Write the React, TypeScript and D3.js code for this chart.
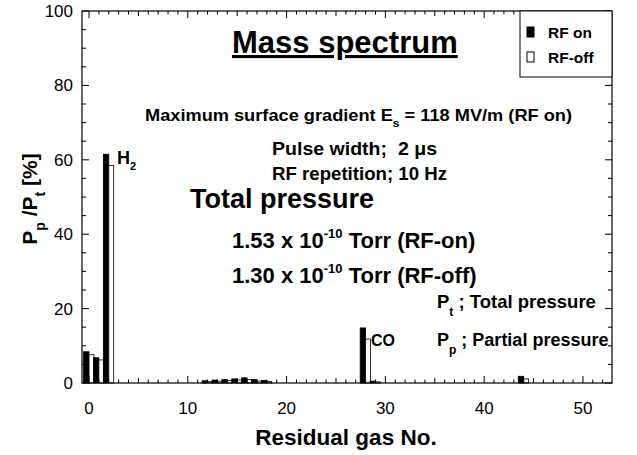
import React from "react";
import * as d3 from "d3";

// residual gas number (mass), RF on / RF off partial pressure ratio [%]
const gasNo = [0, 1, 2, 12, 13, 14, 15, 16, 17, 18, 28, 29, 44];
const rfOn = [8.4, 6.8, 61.5, 0.6, 0.8, 0.9, 1.1, 1.4, 0.9, 0.7, 14.8, 0.5, 1.8];
const rfOff = [7.6, 6.2, 58.5, 0.4, 0.5, 0.7, 0.8, 0.9, 0.5, 0.4, 11.8, 0.3, 1.1];

const xTicks = [0, 10, 20, 30, 40, 50];
const yTicks = [0, 20, 40, 60, 80, 100];

const W = 637, H = 455;
const left = 82, right = 612, top = 11, bottom = 383;
const font = "'Liberation Sans', Arial, Helvetica, sans-serif";

export default function App() {
  const x = d3.scaleLinear().domain([-0.71, 52.94]).range([left, right]);
  const y = d3.scaleLinear().domain([0, 100]).range([bottom, top]);

  const xMinor = d3.range(0, 53, 1);
  const yMinor = d3.range(0, 101, 5);

  return (
    <svg width={W} height={H} style={{ position: "absolute", left: 0, top: 0, background: "#fff" }}
      fontFamily={font}>
      {/* bars */}
      {gasNo.map((g, i) => (
        <g key={g}>
          <rect x={x(g - 0.55)} y={y(rfOn[i])} width={x(g) - x(g - 0.55)} height={y(0) - y(rfOn[i])}
            fill="#000" stroke="#000" strokeWidth={0.8} />
          <rect x={x(g)} y={y(rfOff[i])} width={x(g + 0.5) - x(g)} height={y(0) - y(rfOff[i])}
            fill="#fff" stroke="#000" strokeWidth={0.8} />
        </g>
      ))}

      {/* frame */}
      <rect x={left} y={top} width={right - left} height={bottom - top} fill="none" stroke="#000" strokeWidth={1.2} />

      {/* x ticks, inward, bottom and top */}
      {xMinor.map(v => {
        const len = v % 10 === 0 ? 7 : v % 5 === 0 ? 5 : 3.5;
        return (
          <g key={"x" + v} stroke="#000" strokeWidth={1}>
            <line x1={x(v)} x2={x(v)} y1={bottom} y2={bottom - len} />
            <line x1={x(v)} x2={x(v)} y1={top} y2={top + len} />
          </g>
        );
      })}
      {/* y ticks, inward, left and right */}
      {yMinor.map(v => {
        const len = v % 20 === 0 ? 7 : 4;
        return (
          <g key={"y" + v} stroke="#000" strokeWidth={1}>
            <line x1={left} x2={left + len} y1={y(v)} y2={y(v)} />
            <line x1={right} x2={right - len} y1={y(v)} y2={y(v)} />
          </g>
        );
      })}

      {/* tick labels */}
      {xTicks.map(v => (
        <text key={"xl" + v} x={x(v)} y={414} textAnchor="middle" fontSize={17}>{v}</text>
      ))}
      {yTicks.map(v => (
        <text key={"yl" + v} x={73} y={y(v) + 6} textAnchor="end" fontSize={17}>{v}</text>
      ))}

      {/* axis titles */}
      <text x={346} y={445} textAnchor="middle" fontSize={22.5} fontWeight="bold">Residual gas No.</text>
      <text transform="translate(37,199) rotate(-90)" textAnchor="middle" fontSize={21} fontWeight="bold">
        P<tspan dy={8} fontSize={14}>p</tspan><tspan dy={-8}> /P</tspan><tspan dy={8} fontSize={14}>t</tspan><tspan dy={-8}> [%]</tspan>
      </text>

      {/* legend */}
      <rect x={520} y={top} width={right - 520} height={66} fill="#fff" stroke="#000" strokeWidth={1} />
      <rect x={527} y={27} width={7} height={10} fill="#000" stroke="#000" />
      <text x={548} y={38} fontSize={15.5} fontWeight="bold">RF on</text>
      <rect x={527} y={52} width={7} height={10} fill="#fff" stroke="#000" />
      <text x={548} y={63} fontSize={15.5} fontWeight="bold">RF-off</text>

      {/* annotations */}
      <text x={232} y={53} fontSize={31} fontWeight="bold" textDecoration="underline">Mass spectrum</text>
      <text x={145} y={121} fontSize={16.5} fontWeight="bold" textLength={427} lengthAdjust="spacingAndGlyphs">
        Maximum surface gradient E<tspan dy={6} fontSize={11}>s</tspan><tspan dy={-6}> = 118 MV/m (RF on)</tspan>
      </text>
      <text x={272} y={155} fontSize={18} fontWeight="bold" xmlSpace="preserve" textLength={165} lengthAdjust="spacingAndGlyphs">Pulse width;  2 μs</text>
      <text x={272} y={180} fontSize={18} fontWeight="bold" textLength={175} lengthAdjust="spacingAndGlyphs">RF repetition; 10 Hz</text>
      <text x={190} y={208} fontSize={27} fontWeight="bold">Total pressure</text>
      <text x={232} y={248} fontSize={22} fontWeight="bold">
        1.53 x 10<tspan dy={-10} fontSize={13}>-10</tspan><tspan dy={10}> Torr (RF-on)</tspan>
      </text>
      <text x={232} y={283} fontSize={22} fontWeight="bold">
        1.30 x 10<tspan dy={-10} fontSize={13}>-10</tspan><tspan dy={10}> Torr (RF-off)</tspan>
      </text>
      <text x={437} y={308} fontSize={18.5} fontWeight="bold" xmlSpace="preserve">
        P<tspan dy={8} fontSize={12}>t</tspan><tspan dy={-8}> ; Total pressure</tspan>
      </text>
      <text x={437} y={346} fontSize={18} fontWeight="bold" xmlSpace="preserve">
        P<tspan dy={8} fontSize={12}>p</tspan><tspan dy={-8}> ; Partial pressure</tspan>
      </text>
      <text x={117} y={164} fontSize={18} fontWeight="bold">
        H<tspan dy={6} fontSize={11}>2</tspan>
      </text>
      <text x={371} y={346} fontSize={16} fontWeight="bold">CO</text>
    </svg>
  );
}
